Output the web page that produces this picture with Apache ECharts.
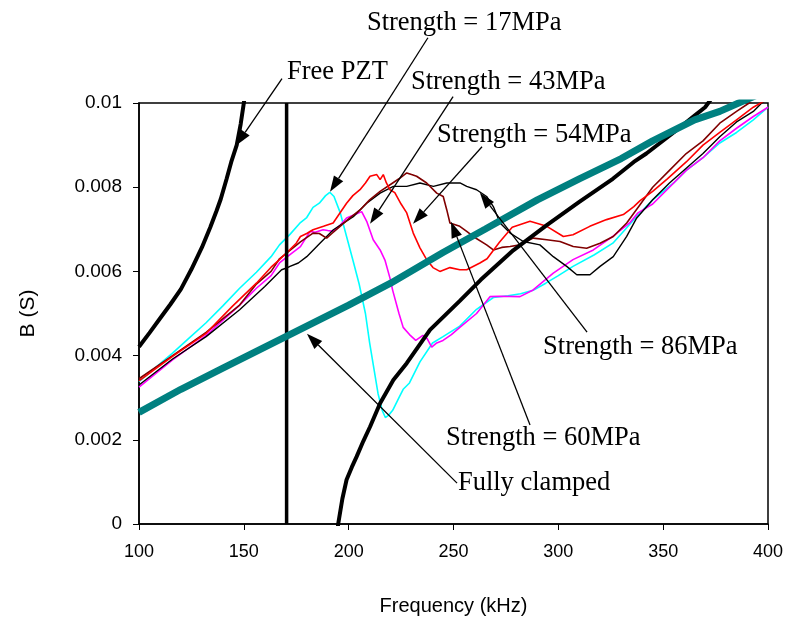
<!DOCTYPE html>
<html>
<head>
<meta charset="utf-8">
<title>B (S) - Frequency (kHz)</title>
<script src="https://cdn.jsdelivr.net/npm/echarts@6/dist/echarts.min.js"></script>
<style>
html, body { margin: 0; padding: 0; background: #fff; }
#main { width: 788px; height: 631px; }
</style>
</head>
<body>
<div id="main"></div>
<script type="text/javascript">
// 数据：频率 (kHz) 与电纳 B (S)

// Strength = 17MPa
var cyanF = [100,108,116,124,132,140,148,156,163,167,172,177,180,183,186,189,191,193,196,199,202,205,208,210,212,214,216,217.5,219,221,224,226,229,234,240,245,253,261,269,276,282,288,294,300,307,317,326,332,336,345,355,361,369,377,385,393,400];
var cyanB = [0.00338,0.00372,0.00406,0.00442,0.00478,0.00518,0.0056,0.00598,0.00635,0.00663,0.00688,0.00716,0.00728,0.00752,0.00762,0.0078,0.00788,0.00778,0.00739,0.00683,0.00627,0.0057,0.0050,0.0043,0.0037,0.0031,0.0027,0.00253,0.00258,0.0027,0.0030,0.0032,0.00335,0.00385,0.0043,0.00445,0.0047,0.0051,0.00538,0.00542,0.00547,0.00555,0.00572,0.0059,0.00612,0.00639,0.00667,0.0070,0.00723,0.0077,0.0081,0.0084,0.0087,0.00905,0.0093,0.0096,0.0099];

// Strength = 43MPa
var magentaF = [100,116,132,148,156,163,167,172,177,181.6,184,187.8,190,192.6,196,199,203,206.2,208.6,211.7,215,217.3,219.7,221,224,226,229,232,235.4,237.5,239.6,242,245,249,253,261,267.4,272,281.7,288,297.6,307,316.7,326,334,338,345,353,361,369,377,385,393,400];
var magentaB = [0.00325,0.0039,0.00448,0.0052,0.0056,0.0059,0.0062,0.0064,0.00659,0.00695,0.00693,0.00699,0.00697,0.00695,0.0071,0.00727,0.00735,0.00742,0.00719,0.00675,0.00651,0.00627,0.00584,0.00555,0.0050,0.00467,0.0045,0.00436,0.00448,0.0044,0.0042,0.0043,0.00436,0.0045,0.00467,0.0050,0.0054,0.00541,0.0054,0.00556,0.00596,0.00628,0.00651,0.00683,0.00715,0.00739,0.0076,0.0080,0.0084,0.0087,0.0091,0.0094,0.00968,0.0099];

// Strength = 54MPa
var redF = [100,116,132,144.5,156,163,167,172,175,177,180,183,188,192.6,196,199,202,205.4,208,210.2,213.4,215,216.5,218,219.7,222,225,227.7,230.8,234,237.2,240.2,243.5,248.3,253,256.3,262.6,266,272,278,286.5,294.5,302.4,307,315,323,331,336,339,345,352,361,369,377,385,393,400];
var redB = [0.0034,0.00398,0.00453,0.00517,0.00572,0.0061,0.00628,0.00652,0.00667,0.00683,0.0069,0.00699,0.00707,0.00715,0.0074,0.00762,0.0078,0.00794,0.0081,0.00826,0.0083,0.00818,0.0083,0.0081,0.00794,0.00787,0.0076,0.00739,0.00691,0.00656,0.00628,0.00609,0.0060,0.00609,0.00604,0.00604,0.0062,0.0063,0.0067,0.00705,0.00719,0.00707,0.00683,0.00687,0.00707,0.00723,0.00735,0.00754,0.00768,0.0079,0.0082,0.0086,0.0090,0.0093,0.0096,0.0099,0.0101];

// Strength = 60MPa
var maroonF = [100,116,132,148,156,163,167,172,177,183,186,189.5,192,195.9,200,205.4,210,215,221,224,227.7,230,232.4,237.2,242,245.1,246.8,248.3,253,256.3,259.4,265.8,269,273,277,281.7,288,294.5,300.8,307.1,313.5,319.9,326.2,332.6,338,345,353,361,369,377,385,391,400];
var maroonB = [0.00345,0.0040,0.00455,0.0052,0.0057,0.0060,0.0063,0.0065,0.0067,0.00691,0.0069,0.00679,0.0069,0.00707,0.00725,0.00746,0.0077,0.0079,0.0081,0.0082,0.00834,0.0083,0.00826,0.0081,0.00786,0.00778,0.00746,0.00715,0.00707,0.00695,0.00683,0.00663,0.00651,0.00657,0.00659,0.00663,0.00679,0.00675,0.00671,0.00659,0.00655,0.00667,0.00683,0.00715,0.00752,0.0080,0.0084,0.0088,0.0091,0.00952,0.0098,0.0100,0.0103];

// Strength = 86MPa
var blackF = [100,116,132,148,160,168,170.4,172,176,180,186.3,192.7,202.2,208.6,215,221.3,227.7,234,240.4,246.8,253.1,256.3,261,265.8,269,272.2,277,283.3,291.2,297.6,304,308.8,315.1,319.9,326.2,332.6,337.4,345,353,361,369,377,385,393,397,400];
var blackB = [0.0033,0.00392,0.00445,0.00509,0.00564,0.00604,0.00608,0.00612,0.0062,0.00635,0.00667,0.00699,0.0073,0.00762,0.00786,0.00802,0.00802,0.0081,0.00802,0.0081,0.0081,0.00802,0.00794,0.00778,0.00754,0.00715,0.00691,0.00671,0.00663,0.00635,0.00612,0.00592,0.00592,0.00612,0.00635,0.00683,0.00727,0.0077,0.0081,0.00845,0.0088,0.0092,0.00955,0.0098,0.0100,0.0101];

// Fully clamped
var clampF = [100,120,140,170,200,220,245,265,290,310,330,345,355,365,377,386,400];
var clampB = [0.00265,0.0032,0.0037,0.00445,0.0052,0.00572,0.00645,0.0070,0.0077,0.0082,0.00868,0.0091,0.00935,0.0096,0.0098,0.0100,0.0103];

// Free PZT（共振两侧 + 共振处竖线）
var pztLeftF = [100,105,110,115,120,125,130,134,137,139,141.8,144,146.6,148.5,150,151];
var pztLeftB = [0.00421,0.00454,0.00488,0.00522,0.00558,0.00605,0.00657,0.00705,0.00744,0.00772,0.0082,0.0086,0.0090,0.0095,0.0100,0.0104];
var pztResF = [170.4,170.4];
var pztResB = [0,0.01];
var pztRightF = [194.5,195,197,199,201.5,203.8,207,210.2,215,221.3,227.7,238.8,253,263,278.5,294.5,310,326,336,342,355,365,370,373];
var pztRightB = [-0.0002,0,0.0006,0.00105,0.00135,0.0016,0.00197,0.00231,0.00287,0.00342,0.00382,0.00461,0.0053,0.0058,0.0065,0.0071,0.00765,0.0082,0.0086,0.0088,0.0093,0.0097,0.0099,0.0101];

// 坐标轴刻度
var xTicks = [100,150,200,250,300,350,400];
var yTicks = [0,0.002,0.004,0.006,0.008,0.01];

// 标注：文字位置 at，箭头从 from 指向 to（数据坐标）
var notes = [
    {text: 'Strength = 17MPa', at: [208.7, 0.0119],  from: [237.8, 0.01155], to: [191.1, 0.00789]},
    {text: 'Free PZT',         at: [170.6, 0.01074], from: [168.2, 0.01058], to: [146.3, 0.00899]},
    {text: 'Strength = 43MPa', at: [229.7, 0.01049], from: [249.8, 0.01015], to: [210.2, 0.00713]},
    {text: 'Strength = 54MPa', at: [242.1, 0.00925], from: [263.6, 0.00896], to: [230.7, 0.00713]},
    {text: 'Strength = 86MPa', at: [292.7, 0.00421], from: [313.7, 0.00456], to: [262.6, 0.00787]},
    {text: 'Strength = 60MPa', at: [246.4, 0.00204], from: [286.5, 0.00235], to: [248.8, 0.00718]},
    {text: 'Fully clamped',    at: [252.1, 0.00097], from: [251.7, 0.00097], to: [180.1, 0.00452]}
];

function pairs(xs, ys) {
    var out = [];
    for (var i = 0; i < xs.length; i++) out.push([xs[i], ys[i]]);
    return out;
}

function curve(name, xs, ys, color, width) {
    return {
        name: name,
        type: 'line',
        data: pairs(xs, ys),
        showSymbol: false,
        symbol: 'none',
        smooth: false,
        lineStyle: {color: color, width: width},
        itemStyle: {color: color},
        silent: true
    };
}

var chart = echarts.init(document.getElementById('main'));
var sans = '"Liberation Sans", Arial, sans-serif';

chart.setOption({
    animation: false,
    backgroundColor: '#fff',
    grid: {
        left: 139, right: 20, top: 103, bottom: 107,
        show: true, borderColor: '#000', borderWidth: 1.5, backgroundColor: 'transparent'
    },
    xAxis: {
        type: 'value',
        min: 100, max: 400, interval: 50,
        name: 'Frequency (kHz)',
        nameLocation: 'middle',
        nameGap: 72,
        nameTextStyle: {fontFamily: sans, fontSize: 20, color: '#000'},
        axisLine: {lineStyle: {color: '#000', width: 1.5}},
        axisTick: {show: true, inside: false, length: 6, lineStyle: {color: '#000'}},
        axisLabel: {
            fontFamily: sans, fontSize: 18, color: '#000', margin: 19,
            formatter: function (v) { return xTicks.indexOf(v) >= 0 ? String(v) : ''; }
        },
        splitLine: {show: false}
    },
    yAxis: {
        type: 'value',
        min: 0, max: 0.01, interval: 0.002,
        name: 'B (S)',
        nameLocation: 'middle',
        nameGap: 100,
        nameRotate: 90,
        nameTextStyle: {fontFamily: sans, fontSize: 21, color: '#000'},
        axisLine: {show: true, lineStyle: {color: '#000', width: 1.5}},
        axisTick: {show: true, inside: false, length: 6, lineStyle: {color: '#000'}},
        axisLabel: {
            fontFamily: sans, fontSize: 19, color: '#000', margin: 17,
            formatter: function (v) {
                var i = yTicks.indexOf(Math.round(v * 1000) / 1000);
                return i >= 0 ? String(yTicks[i]) : '';
            }
        },
        splitLine: {show: false}
    },
    series: [
        curve('Strength = 17MPa', cyanF, cyanB, '#00ffff', 1.6),
        curve('Strength = 43MPa', magentaF, magentaB, '#ff00ff', 1.6),
        curve('Strength = 86MPa', blackF, blackB, '#000000', 1.4),
        curve('Strength = 60MPa', maroonF, maroonB, '#800000', 1.6),
        curve('Strength = 54MPa', redF, redB, '#ff0000', 1.6),
        curve('Free PZT', pztLeftF, pztLeftB, '#000000', 4),
        curve('Free PZT ', pztResF, pztResB, '#000000', 3.5),
        curve('Free PZT  ', pztRightF, pztRightB, '#000000', 4),
        curve('Fully clamped', clampF, clampB, '#008080', 7)
    ]
});

// 标注文字与箭头
var g = [];
notes.forEach(function (n) {
    var t = chart.convertToPixel({gridIndex: 0}, n.at);
    var s = chart.convertToPixel({gridIndex: 0}, n.from);
    var e = chart.convertToPixel({gridIndex: 0}, n.to);
    var dx = e[0] - s[0], dy = e[1] - s[1];
    var len = Math.sqrt(dx * dx + dy * dy);
    var ux = dx / len, uy = dy / len;
    var head = 16, half = 5.5;
    var bx = e[0] - ux * head, by = e[1] - uy * head;
    g.push({
        type: 'text', x: t[0], y: t[1], z: 100,
        style: {
            text: n.text, fill: '#000',
            fontFamily: '"Liberation Serif", "Times New Roman", serif', fontSize: 26.5,
            verticalAlign: 'middle', textVerticalAlign: 'middle'
        }
    });
    g.push({
        type: 'line', z: 100,
        shape: {x1: s[0], y1: s[1], x2: bx, y2: by},
        style: {stroke: '#000', lineWidth: 1.3}
    });
    g.push({
        type: 'polygon', z: 100,
        shape: {points: [[e[0], e[1]], [bx - uy * half, by + ux * half], [bx + uy * half, by - ux * half]]},
        style: {fill: '#000'}
    });
});
chart.setOption({graphic: g});
</script>
</body>
</html>
